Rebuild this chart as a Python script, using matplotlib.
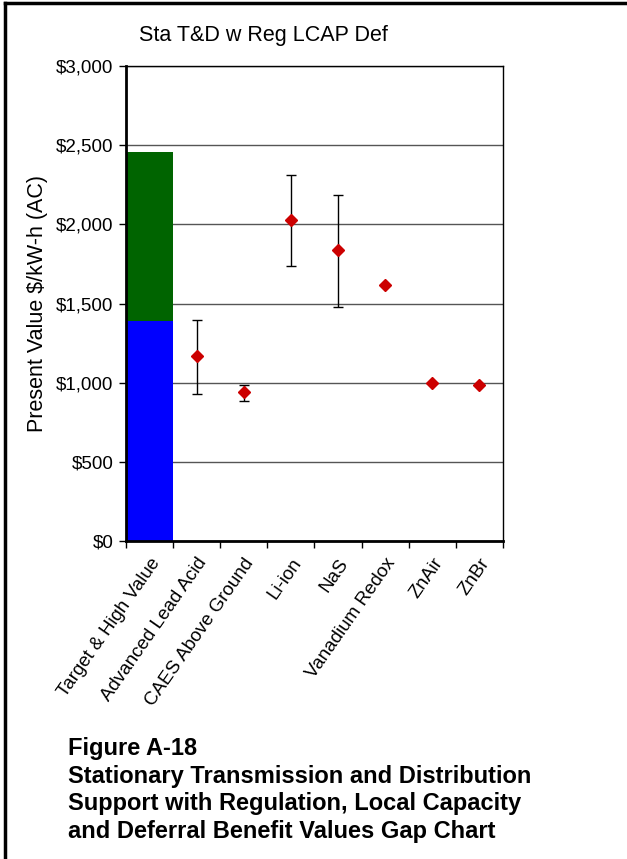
import matplotlib
matplotlib.use("Agg")
import matplotlib.pyplot as plt
from matplotlib.lines import Line2D
import numpy as np

plt.rcParams['font.family'] = ['Liberation Sans', 'DejaVu Sans']

categories = ["Target & High Value", "Advanced Lead Acid", "CAES Above Ground",
              "Li-ion", "NaS", "Vanadium Redox", "ZnAir", "ZnBr"]
target_value = 1390
high_value = 2460
tech_names = categories[1:]
tech_values = [1170, 943, 2031, 1837, 1616, 1000, 984]
err_high = [1397, 989, 2311, 2187, None, None, None]
err_low = [929, 886, 1738, 1477, None, None, None]
yticks = [0, 500, 1000, 1500, 2000, 2500, 3000]
ytick_labels = ["$0", "$500", "$1,000", "$1,500", "$2,000", "$2,500", "$3,000"]

fig = plt.figure(figsize=(6.27, 8.59), dpi=100)
ax = fig.add_axes([0.201, 0.370, 0.601, 0.553])

x = np.arange(len(categories))
ax.bar(x[0], target_value, width=1.0, color="#0000FF", zorder=2)
ax.bar(x[0], high_value - target_value, bottom=target_value, width=1.0,
       color="#006400", zorder=2)

for i, (v, hi, lo) in enumerate(zip(tech_values, err_high, err_low)):
    xi = x[i + 1]
    if hi is not None:
        ax.errorbar(xi, v, yerr=[[v - lo], [hi - v]], fmt='none', ecolor='black',
                    elinewidth=1.0, capsize=3.5, capthick=1.0, zorder=3)
    ax.plot(xi, v, marker='D', color='#CC0000', markersize=6.5, zorder=4,
            linestyle='none')

ax.set_xlim(-0.5, len(categories) - 0.5)
ax.set_ylim(0, 3000)
ax.set_yticks(yticks)
ax.set_yticklabels(ytick_labels, fontsize=13.5)
ax.yaxis.grid(True, color='#555555', linewidth=1.0, zorder=0)
ax.set_axisbelow(True)

ax.set_xticks(x)
ax.set_xticklabels(categories, rotation=55, ha='right', va='top',
                   rotation_mode='anchor', fontsize=13.5)
ax.tick_params(axis='x', which='major', length=0, pad=10)
ax.set_xticks(np.arange(-0.5, len(categories), 1.0), minor=True)
ax.tick_params(axis='x', which='minor', length=5, width=1.0, direction='out')
ax.tick_params(axis='y', length=5, width=1.0, direction='out', pad=4)

ax.spines['left'].set_linewidth(2.0)
ax.spines['bottom'].set_linewidth(2.0)
ax.spines['top'].set_linewidth(1.0)
ax.spines['right'].set_linewidth(1.0)

ax.set_ylabel("Present Value $/kW-h (AC)", fontsize=15.5, labelpad=6)
fig.text(0.42, 0.959, "Sta T&D w Reg LCAP Def", fontsize=15.5, ha='center', va='center')

caption = ("Figure A-18\nStationary Transmission and Distribution\n"
           "Support with Regulation, Local Capacity\n"
           "and Deferral Benefit Values Gap Chart")
fig.text(0.108, 0.142, caption, fontsize=17, fontweight='bold', ha='left', va='top',
         linespacing=1.25)

# page frame
fig.add_artist(Line2D([0.008, 0.008], [0, 0.997], transform=fig.transFigure,
                      color='black', linewidth=2.5))
fig.add_artist(Line2D([0.008, 1.0], [0.997, 0.997], transform=fig.transFigure,
                      color='black', linewidth=2.5))

fig.savefig("out.png", dpi=100)
